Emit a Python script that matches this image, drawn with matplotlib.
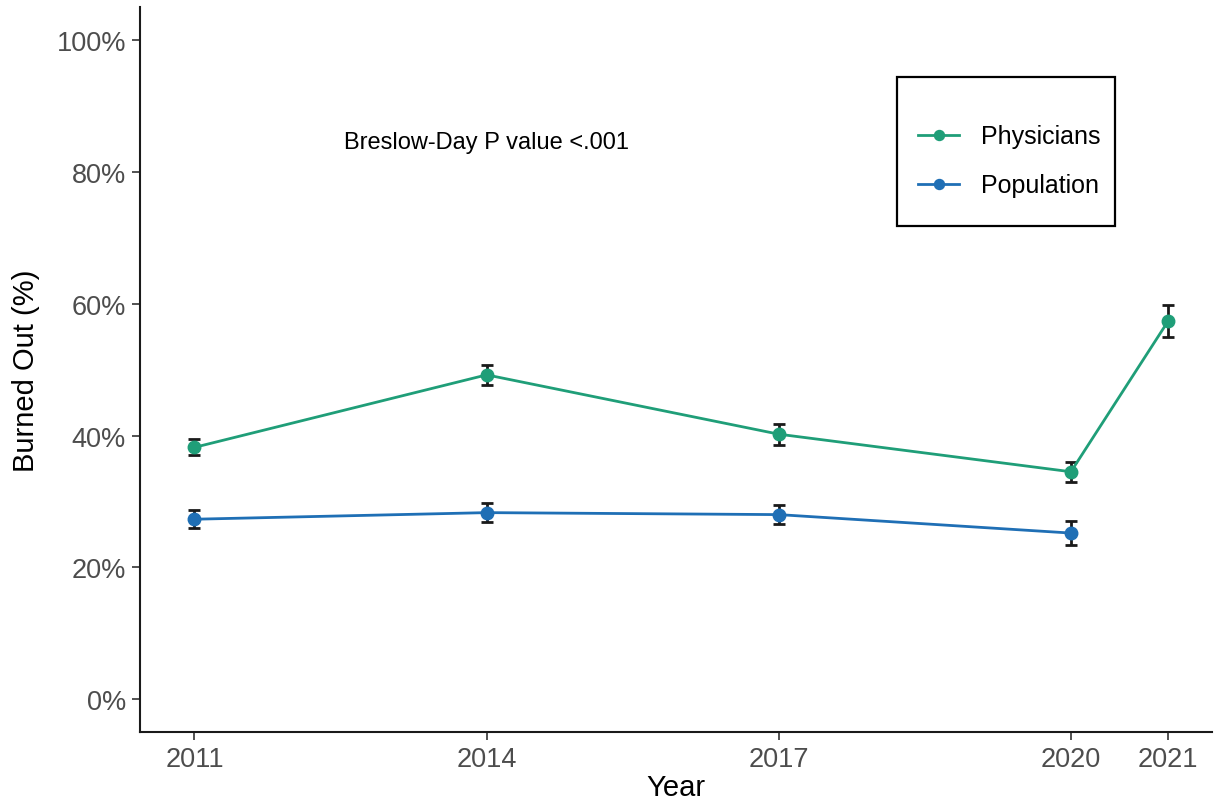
import numpy as np
import matplotlib
matplotlib.use("Agg")
import matplotlib.pyplot as plt
from matplotlib.patches import Rectangle
from matplotlib.ticker import FuncFormatter

years = [2011, 2014, 2017, 2020, 2021]
phys = [38.2, 49.2, 40.2, 34.5, 57.4]
phys_err = [1.2, 1.5, 1.6, 1.5, 2.4]
pop_years = [2011, 2014, 2017, 2020]
pop = [27.3, 28.3, 28.0, 25.2]
pop_err = [1.4, 1.4, 1.4, 1.8]

green = '#1f9e78'
blue = '#1f6fb5'

plt.rcParams['font.family'] = ['Liberation Sans', 'DejaVu Sans']

fig = plt.figure(figsize=(12.17, 8.03), dpi=100)
ax = fig.add_axes([0.115, 0.087, 0.881, 0.903])

for xs, ys, es, c, lab in [(years, phys, phys_err, green, 'Physicians'),
                           (pop_years, pop, pop_err, blue, 'Population')]:
    ax.plot(xs, ys, color=c, lw=2, marker='o', ms=9, label=lab, zorder=3)
    ax.errorbar(xs, ys, yerr=es, fmt='none', ecolor='#1a1a1a', elinewidth=2,
                capsize=4, capthick=2, zorder=2)

ax.set_xlim(2010.44, 2021.45)
ax.set_ylim(-5, 105)
ax.set_xticks(years)
ax.set_yticks([0, 20, 40, 60, 80, 100])
ax.yaxis.set_major_formatter(FuncFormatter(lambda v, p: f'{int(v)}%'))
ax.tick_params(labelsize=19.5, labelcolor='#4d4d4d', length=6, width=1.2,
               color='#333333', pad=4)

for s in ['top', 'right']:
    ax.spines[s].set_visible(False)
for s in ['left', 'bottom']:
    ax.spines[s].set_linewidth(1.5)
    ax.spines[s].set_color('#1a1a1a')

ax.set_xlabel('Year', fontsize=21, labelpad=1)
ax.set_ylabel('Burned Out (%)', fontsize=21, labelpad=12)

ax.text(2014, 84.5, 'Breslow-Day P value <.001', ha='center', va='center', fontsize=17)

# legend box
ax.add_patch(Rectangle((0.706, 0.698), 0.203, 0.205, transform=ax.transAxes,
                       fill=False, edgecolor='black', lw=1.6, zorder=5))
ax.legend(loc='center', bbox_to_anchor=(0.8106, 0.788), frameon=False,
          fontsize=18, labelspacing=1.0, handlelength=1.65, handletextpad=0.85,
          markerscale=0.8, borderpad=0)

fig.savefig('out.png', dpi=100)
